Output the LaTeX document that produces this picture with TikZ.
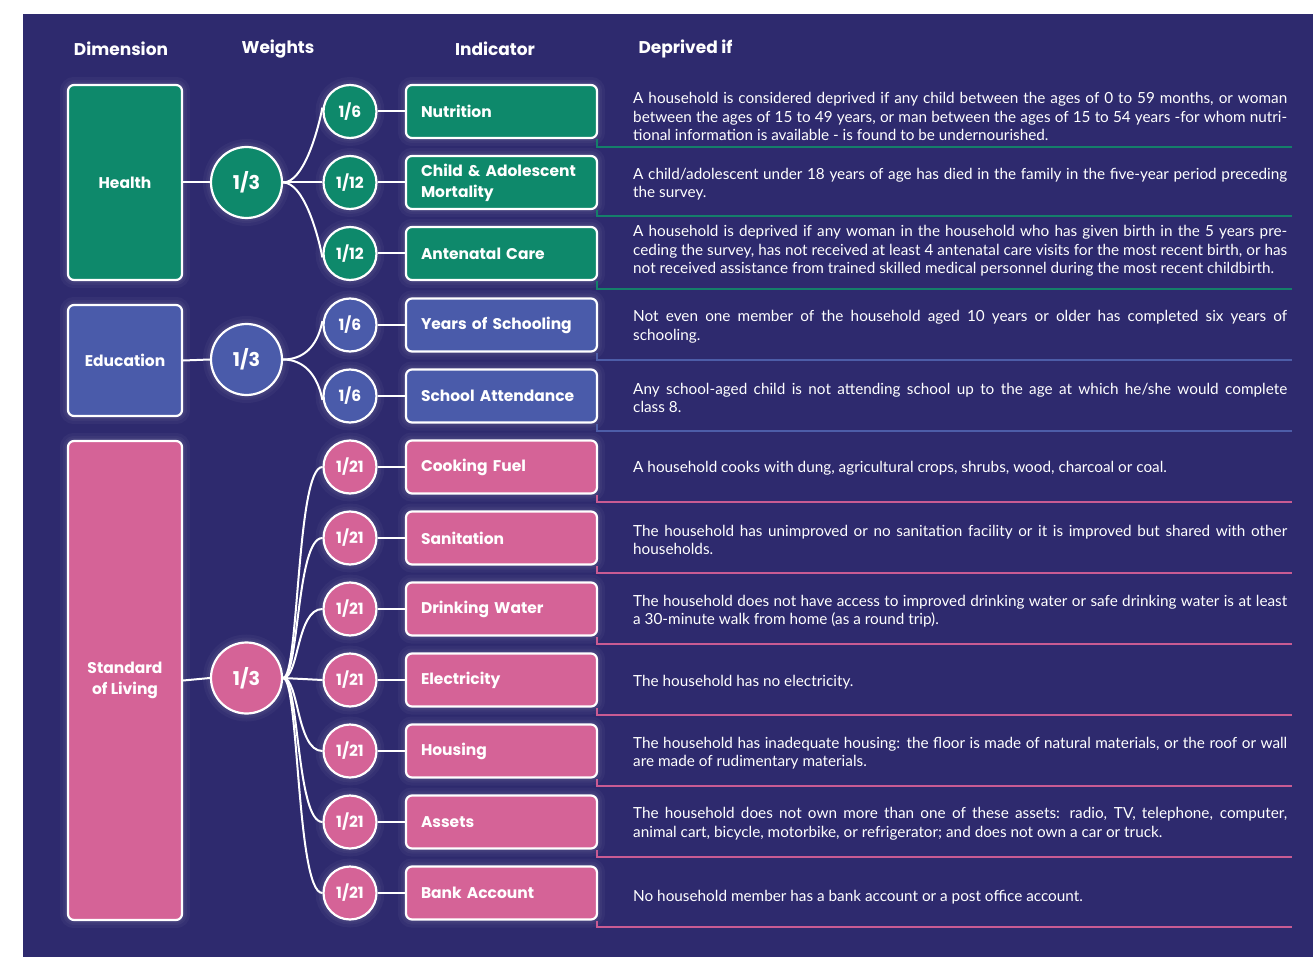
\documentclass[tikz,border=0pt]{standalone}
\usepackage{fontspec}
\usetikzlibrary{calc}
\setmainfont{Poppins}
\newfontfamily\descfont{Lato}
\definecolor{navy}{HTML}{2E2A6E}
\definecolor{hteal}{HTML}{0E896B}
\definecolor{eblue}{HTML}{4A5BAA}
\definecolor{spink}{HTML}{D56397}
\definecolor{hsep}{HTML}{157F6A}
\definecolor{esep}{HTML}{4D5DA8}
\definecolor{ssep}{HTML}{C95B93}
\tikzset{
  glow/.style={preaction={draw=white, draw opacity=0.035, line width=16pt},
               preaction={draw=white, draw opacity=0.035, line width=10pt},
               preaction={draw=white, draw opacity=0.04, line width=6pt}},
  wline/.style={glow, draw=white, line width=2.2pt},
  dimbox/.style={wline, rounded corners=6pt, minimum width=114pt, inner sep=0pt, text=white, align=center,
    font=\bfseries\fontsize{15.5}{21}\selectfont},
  bigw/.style={wline, circle, minimum size=71pt, inner sep=0pt, text=white, font=\bfseries\fontsize{19}{22}\selectfont},
  smallw/.style={wline, circle, minimum size=53pt, inner sep=0pt, text=white, font=\bfseries\fontsize{15.5}{18}\selectfont},
  indbox/.style={wline, rounded corners=6pt, minimum width=191pt, minimum height=53pt, text width=161pt,
    inner xsep=15pt, inner ysep=0pt, align=left, text=white, font=\bfseries\fontsize{15.5}{21}\selectfont},
  desc/.style={anchor=west, text width=654pt, inner sep=0pt, align=justify, text=white,
    font=\descfont\fontsize{15.3}{18.6}\selectfont},
  head/.style={text=white, font=\bfseries\fontsize{17}{20}\selectfont},
  conn/.style={draw=white, line width=2pt},
  sepline/.style={line width=1.8pt},
}
\begin{document}
\tolerance=10000 \hyphenpenalty=10000 \emergencystretch=0pt
\begin{tikzpicture}[x=1pt,y=-1pt]
\useasboundingbox (0,0) rectangle (1313,957);
\fill[white] (0,0) rectangle (1313,957);
\fill[navy] (23,14) rectangle (1313,957);

% headers
\node[head] (hdim) at (121,49) {Dimension};
\node[head] (hw) at (278,49) {Weights};
\node[head] (hind) at (495,49) {Indicator};
\node[head, anchor=west] (hdep) at (635,49) {Deprived if};

% dimension boxes
\node[dimbox, fill=hteal, minimum height=195pt] (dh) at (125,182.5) {Health};
\node[dimbox, fill=eblue, minimum height=111pt] (de) at (125,360.5) {Education};
\node[dimbox, fill=spink, minimum height=479pt] (ds) at (125,680.5) {Standard\\of Living};

% big circles
\node[bigw, fill=hteal] (bh) at (246.5,182.5) {1/3};
\node[bigw, fill=eblue] (be) at (246.5,359.5) {1/3};
\node[bigw, fill=spink] (bs) at (246.5,678) {1/3};

\draw[conn] (dh.east) -- (bh.west);
\draw[conn] (de.east) -- (be.west);
\draw[conn] (ds.east) -- (bs.west);

% small circles
\node[smallw, fill=hteal] (w1) at (350,111.5) {1/6};
\node[smallw, fill=hteal] (w2) at (350,182.5) {1/12};
\node[smallw, fill=hteal] (w3) at (350,253.5) {1/12};
\node[smallw, fill=eblue] (w4) at (350,325) {1/6};
\node[smallw, fill=eblue] (w5) at (350,396) {1/6};
\node[smallw, fill=spink] (w6) at (350,467) {1/21};
\node[smallw, fill=spink] (w7) at (350,538) {1/21};
\node[smallw, fill=spink] (w8) at (350,609) {1/21};
\node[smallw, fill=spink] (w9) at (350,680) {1/21};
\node[smallw, fill=spink] (w10) at (350,751) {1/21};
\node[smallw, fill=spink] (w11) at (350,822) {1/21};
\node[smallw, fill=spink] (w12) at (350,893) {1/21};

% short curves (health, education)
\foreach \b/\w in {bh/w1,be/w4}{
  \draw[conn] (\b.east) .. controls ($(\b.east)+(20,0)$) and ($(\w.west)+(-5,22)$) .. ([yshift=4pt]\w.west);
}
\foreach \b/\w in {bh/w3,be/w5}{
  \draw[conn] (\b.east) .. controls ($(\b.east)+(20,0)$) and ($(\w.west)+(-5,-22)$) .. ([yshift=-4pt]\w.west);
}
% long curves (standard of living)
\foreach \b/\w in {bs/w6,bs/w7,bs/w8,bs/w10,bs/w11,bs/w12}{
  \draw[conn] (\b.east) .. controls ($(\b.east)+(16,0)$) and ($(\w.west)+(-26,0)$) .. (\w.west);
}
\draw[conn] (bh.east) -- (w2.west);
\draw[conn] (bs.east) -- (w9.west);

% indicator boxes
\node[indbox, fill=hteal] (i1) at (501.5,111.5) {Nutrition};
\node[indbox, fill=hteal] (i2) at (501.5,182.5) {Child \& Adolescent\\Mortality};
\node[indbox, fill=hteal] (i3) at (501.5,253.5) {Antenatal Care};
\node[indbox, fill=eblue] (i4) at (501.5,325) {Years of Schooling};
\node[indbox, fill=eblue] (i5) at (501.5,396) {School Attendance};
\node[indbox, fill=spink] (i6) at (501.5,467) {Cooking Fuel};
\node[indbox, fill=spink] (i7) at (501.5,538) {Sanitation};
\node[indbox, fill=spink] (i8) at (501.5,609) {Drinking Water};
\node[indbox, fill=spink] (i9) at (501.5,680) {Electricity};
\node[indbox, fill=spink] (i10) at (501.5,751) {Housing};
\node[indbox, fill=spink] (i11) at (501.5,822) {Assets};
\node[indbox, fill=spink] (i12) at (501.5,893) {Bank Account};

\foreach \n in {1,...,12}{
  \draw[conn] (w\n.east) -- (i\n.west);
}

% separators
\coordinate (s1) at (1292,147);
\coordinate (s2) at (1292,216);
\coordinate (s3) at (1292,289);
\coordinate (s4) at (1292,360);
\coordinate (s5) at (1292,431);
\coordinate (s6) at (1292,502);
\coordinate (s7) at (1292,573);
\coordinate (s8) at (1292,644);
\coordinate (s9) at (1292,715);
\coordinate (s10) at (1292,786);
\coordinate (s11) at (1292,857);
\coordinate (s12) at (1292,927);
\foreach \n in {1,2,3}{ \draw[sepline, draw=hsep] ([xshift=-1.5pt]i\n.south east) |- (s\n); }
\foreach \n in {4,5}{ \draw[sepline, draw=esep] ([xshift=-1.5pt]i\n.south east) |- (s\n); }
\foreach \n in {6,...,12}{ \draw[sepline, draw=ssep] ([xshift=-1.5pt]i\n.south east) |- (s\n); }

% descriptions
\node[desc] (t1) at (633,116.5) {A household is considered deprived if any child between the ages of 0 to 59 months, or woman\linebreak between the ages of 15 to 49 years, or man between the ages of 15 to 54 years -for whom nutri-\linebreak tional information is available - is found to be undernourished.};
\node[desc] (t2) at (633,184) {A child/adolescent under 18 years of age has died in the family in the five-year period preceding\linebreak the survey.};
\node[desc] (t3) at (633,251) {A household is deprived if any woman in the household who has given birth in the 5 years pre-\linebreak ceding the survey, has not received at least 4 antenatal care visits for the most recent birth, or has\linebreak not received assistance from trained skilled medical personnel during the most recent childbirth.};
\node[desc] (t4) at (633,326.5) {Not even one member of the household aged 10 years or older has completed six years of\linebreak schooling.};
\node[desc] (t5) at (633,398) {Any school-aged child is not attending school up to the age at which he/she would complete\linebreak class 8.};
\node[desc] (t6) at (633,468.5) {A household cooks with dung, agricultural crops, shrubs, wood, charcoal or coal.};
\node[desc] (t7) at (633,540) {The household has unimproved or no sanitation facility or it is improved but shared with other\linebreak households.};
\node[desc] (t8) at (633,611) {The household does not have access to improved drinking water or safe drinking water is at least\linebreak a 30-minute walk from home (as a round trip).};
\node[desc] (t9) at (633,682) {The household has no electricity.};
\node[desc] (t10) at (633,753) {The household has inadequate housing: the floor is made of natural materials, or the roof or wall\linebreak are made of rudimentary materials.};
\node[desc] (t11) at (633,824) {The household does not own more than one of these assets: radio, TV, telephone, computer,\linebreak animal cart, bicycle, motorbike, or refrigerator; and does not own a car or truck.};
\node[desc] (t12) at (633,897) {No household member has a bank account or a post office account.};
\end{tikzpicture}
\end{document}
